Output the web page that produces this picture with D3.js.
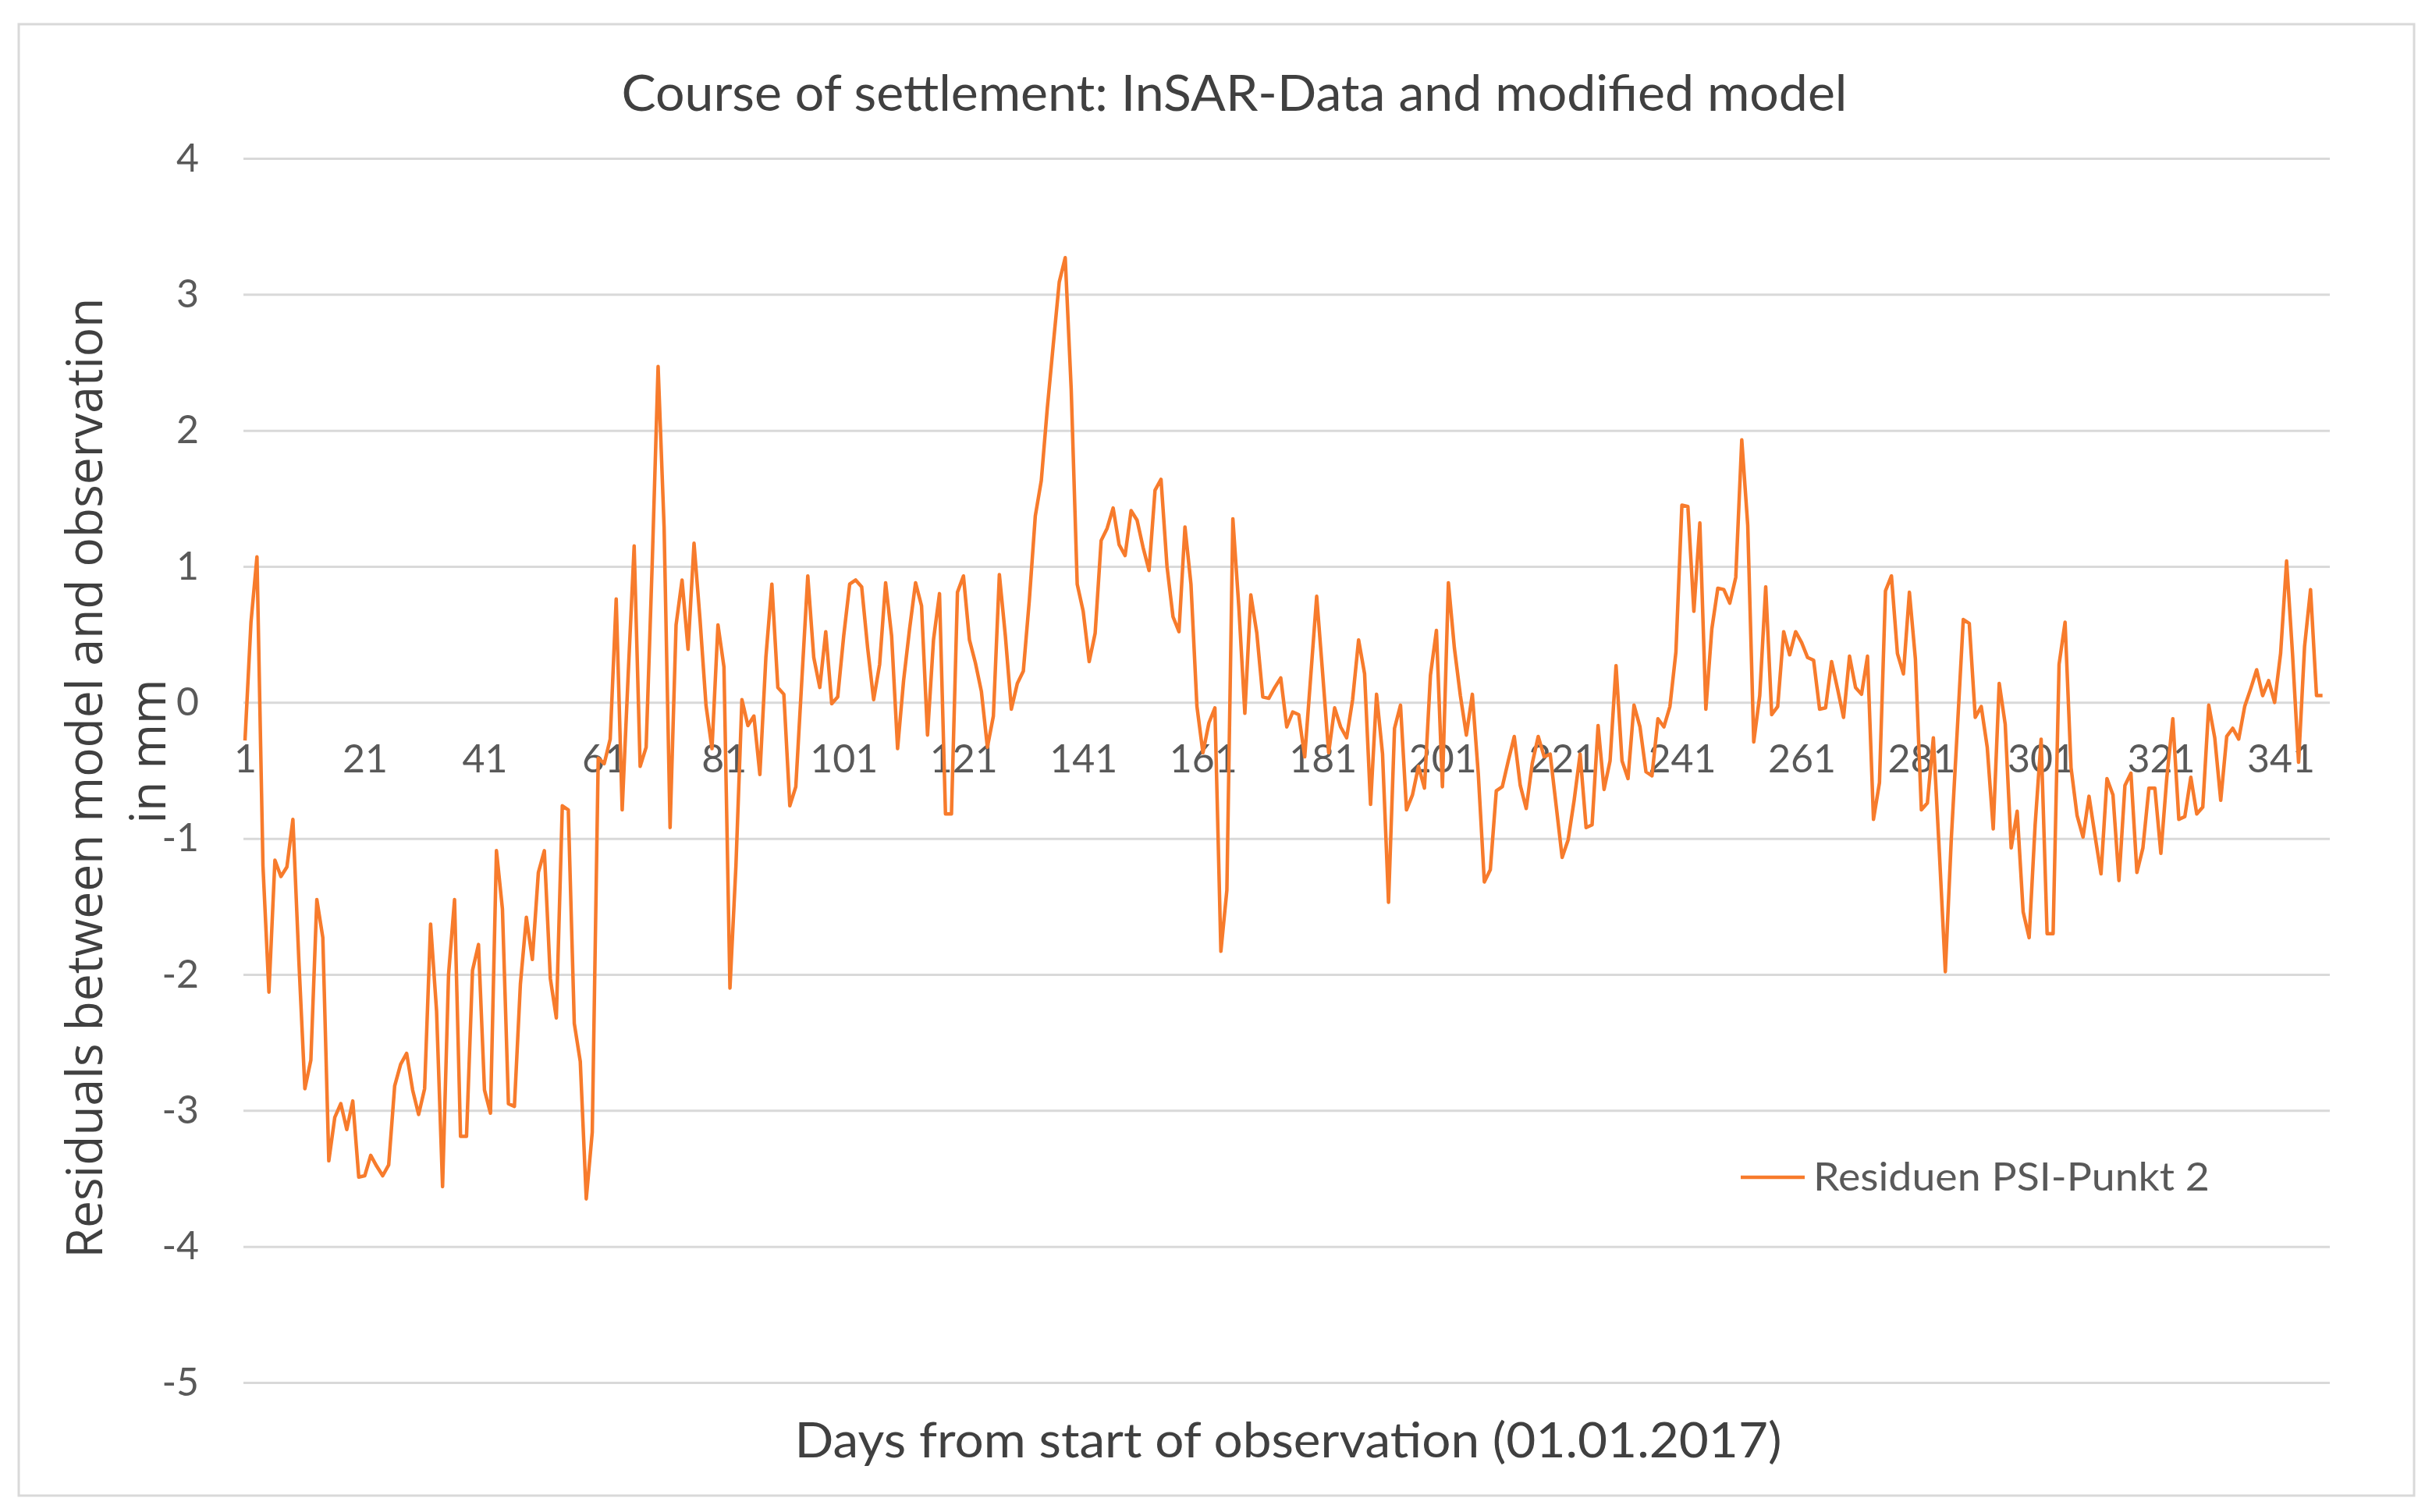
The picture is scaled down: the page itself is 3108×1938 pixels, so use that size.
<!DOCTYPE html>
<html>
<head>
<meta charset="utf-8">
<script src="https://cdn.jsdelivr.net/npm/d3@7"></script>
<style>
  html, body { margin: 0; padding: 0; background: #ffffff; }
  svg { display: block; }
</style>
</head>
<body>
<svg id="chart" width="3108" height="1938"></svg>
<script>
// ---------------- data ----------------
const chartTitle = "Course of settlement: InSAR-Data and modified model";
const xAxisTitle = "Days from start of observation (01.01.2017)";
const yAxisTitleLine1 = "Residuals between model and observation";
const yAxisTitleLine2 = "in mm";
const seriesName = "Residuen PSI-Punkt 2";

const yTickValues = [4, 3, 2, 1, 0, -1, -2, -3, -4, -5];
const xTickLabels = [1, 21, 41, 61, 81, 101, 121, 141, 161, 181, 201, 221, 241, 261, 281, 301, 321, 341];
const categoryExtent = [1, 350];

const residuals = [
  -0.28, 0.59, 1.07, -1.2, -2.13, -1.16, -1.28, -1.21, -0.86, -1.9,
  -2.84, -2.63, -1.45, -1.73, -3.37, -3.05, -2.95, -3.14, -2.93, -3.49,
  -3.48, -3.33, -3.41, -3.48, -3.40, -2.82, -2.66, -2.58, -2.85, -3.03,
  -2.84, -1.63, -2.27, -3.56, -2.0, -1.45, -3.19, -3.19, -1.97, -1.78,
  -2.85, -3.02, -1.09, -1.52, -2.95, -2.97, -2.07, -1.58, -1.89, -1.25,
  -1.09, -2.03, -2.32, -0.76, -0.79, -2.36, -2.64, -3.65, -3.16, -0.41,
  -0.45, -0.27, 0.76, -0.79, 0.2, 1.15, -0.47, -0.33, 1.0, 2.47,
  1.29, -0.92, 0.57, 0.90, 0.39, 1.17, 0.61, -0.02, -0.34, 0.57,
  0.26, -2.10, -1.2, 0.02, -0.17, -0.10, -0.53, 0.33, 0.87, 0.11,
  0.06, -0.76, -0.62, 0.16, 0.93, 0.33, 0.11, 0.52, -0.01, 0.04,
  0.49, 0.87, 0.90, 0.85, 0.40, 0.02, 0.28, 0.88, 0.49, -0.34,
  0.16, 0.54, 0.88, 0.71, -0.24, 0.46, 0.80, -0.82, -0.82, 0.81,
  0.93, 0.46, 0.29, 0.08, -0.33, -0.1, 0.94, 0.49, -0.05, 0.14,
  0.23, 0.75, 1.37, 1.63, 2.16, 2.63, 3.09, 3.27, 2.3, 0.87,
  0.67, 0.30, 0.51, 1.19, 1.28, 1.43, 1.16, 1.08, 1.41, 1.34,
  1.14, 0.97, 1.56, 1.64, 1.0, 0.63, 0.52, 1.29, 0.87, -0.03,
  -0.37, -0.15, -0.04, -1.83, -1.38, 1.35, 0.70, -0.08, 0.79, 0.51,
  0.04, 0.03, 0.11, 0.18, -0.18, -0.07, -0.09, -0.40, 0.19, 0.78,
  0.21, -0.37, -0.04, -0.18, -0.26, 0.02, 0.46, 0.21, -0.75, 0.06,
  -0.38, -1.47, -0.19, -0.02, -0.79, -0.68, -0.47, -0.63, 0.2, 0.53,
  -0.62, 0.88, 0.4, 0.05, -0.24, 0.06, -0.53, -1.32, -1.23, -0.65,
  -0.62, -0.43, -0.25, -0.61, -0.78, -0.45, -0.25, -0.40, -0.38, -0.76,
  -1.14, -1.01, -0.72, -0.38, -0.92, -0.90, -0.17, -0.64, -0.43, 0.27,
  -0.43, -0.56, -0.02, -0.18, -0.51, -0.54, -0.12, -0.18, -0.03, 0.37,
  1.45, 1.44, 0.67, 1.32, -0.05, 0.54, 0.84, 0.83, 0.73, 0.92,
  1.93, 1.3, -0.29, 0.05, 0.85, -0.09, -0.03, 0.52, 0.35, 0.52,
  0.44, 0.33, 0.31, -0.05, -0.04, 0.30, 0.1, -0.11, 0.34, 0.11,
  0.06, 0.34, -0.86, -0.59, 0.82, 0.93, 0.36, 0.21, 0.81, 0.32,
  -0.79, -0.74, -0.26, -1.1, -1.98, -1.0, -0.2, 0.61, 0.58, -0.11,
  -0.03, -0.33, -0.93, 0.14, -0.16, -1.07, -0.80, -1.54, -1.73, -0.9,
  -0.27, -1.70, -1.70, 0.28, 0.59, -0.48, -0.83, -0.99, -0.69, -0.98,
  -1.26, -0.56, -0.68, -1.31, -0.61, -0.52, -1.25, -1.07, -0.63, -0.63,
  -1.11, -0.55, -0.12, -0.86, -0.84, -0.55, -0.82, -0.77, -0.02, -0.26,
  -0.72, -0.25, -0.19, -0.27, -0.03, 0.10, 0.24, 0.05, 0.16, 0.00,
  0.36, 1.04, 0.35, -0.44, 0.41, 0.83, 0.05, 0.05
];
const days = residuals.map((_, i) => i + 1);

// ---------------- drawing ----------------
const svg = d3.select("#chart");
const W = 3108, H = 1938;
const plotLeft = 312, plotRight = 2986;
const lineColor = "#f77b2c";
const labelFont = "Lato, 'Open Sans', 'DejaVu Sans', sans-serif";

svg.append("rect").attr("x", 0).attr("y", 0).attr("width", W).attr("height", H).attr("fill", "#ffffff");
svg.append("rect")
  .attr("x", 24).attr("y", 31).attr("width", 3070).attr("height", 1886)
  .attr("fill", "#ffffff").attr("stroke", "#d9d9d9").attr("stroke-width", 3);

const x = d3.scaleLinear().domain(categoryExtent).range([314, 2992]);
const y = d3.scaleLinear().domain([-5, 4]).range([1772, 203]);

// y gridlines + labels
const yAxis = d3.axisLeft(y)
  .tickValues(yTickValues)
  .tickSize(-(plotRight - plotLeft))
  .tickPadding(57)
  .tickFormat(d3.format("d"));
const gy = svg.append("g").attr("transform", `translate(${plotLeft},0)`).call(yAxis);
gy.select(".domain").remove();
gy.selectAll(".tick line").attr("stroke", "#d9d9d9").attr("stroke-width", 3);
gy.selectAll(".tick text")
  .attr("fill", "#595959")
  .style("font-family", labelFont)
  .style("font-size", "50px")
  .text(d => d < 0 ? "-" + Math.abs(d) : String(d));

// x tick labels at the zero line
const xAxis = d3.axisBottom(x)
  .tickValues(xTickLabels)
  .tickSize(0)
  .tickPadding(54)
  .tickFormat(d3.format("d"));
const gx = svg.append("g").attr("transform", `translate(0,${y(0)})`).call(xAxis);
gx.select(".domain").remove();
gx.selectAll(".tick text")
  .attr("fill", "#595959")
  .style("font-family", labelFont)
  .style("font-size", "50px");

// series line
const line = d3.line()
  .x((d, i) => x(days[i]))
  .y(d => y(d));
svg.append("path")
  .datum(residuals)
  .attr("d", line)
  .attr("fill", "none")
  .attr("stroke", lineColor)
  .attr("stroke-width", 4.5)
  .attr("stroke-linejoin", "round");

// legend
svg.append("line")
  .attr("x1", 2231).attr("x2", 2313).attr("y1", 1509).attr("y2", 1509)
  .attr("stroke", lineColor).attr("stroke-width", 4.5);
svg.append("text")
  .attr("x", 2324).attr("y", 1526)
  .attr("fill", "#595959")
  .style("font-family", labelFont)
  .style("font-size", "50px")
  .attr("textLength", 508).attr("lengthAdjust", "spacingAndGlyphs")
  .text(seriesName);

// chart title
svg.append("text")
  .attr("x", 1582).attr("y", 142)
  .attr("text-anchor", "middle")
  .attr("fill", "#404040")
  .style("font-family", labelFont)
  .style("font-size", "63px")
  .attr("textLength", 1571).attr("lengthAdjust", "spacingAndGlyphs")
  .text(chartTitle);

// x axis title
svg.append("text")
  .attr("x", 1651).attr("y", 1868)
  .attr("text-anchor", "middle")
  .attr("fill", "#404040")
  .style("font-family", labelFont)
  .style("font-size", "61px")
  .attr("textLength", 1265).attr("lengthAdjust", "spacingAndGlyphs")
  .text(xAxisTitle);

// y axis title (two lines)
svg.append("text")
  .attr("transform", "translate(131,997) rotate(-90)")
  .attr("text-anchor", "middle")
  .attr("fill", "#404040")
  .style("font-family", "'Open Sans', 'DejaVu Sans', sans-serif")
  .style("font-size", "64px")
  .attr("textLength", 1231).attr("lengthAdjust", "spacingAndGlyphs")
  .text(yAxisTitleLine1);
svg.append("text")
  .attr("transform", "translate(212,963) rotate(-90)")
  .attr("text-anchor", "middle")
  .attr("fill", "#404040")
  .style("font-family", "'Open Sans', 'DejaVu Sans', sans-serif")
  .style("font-size", "64px")
  .attr("textLength", 185).attr("lengthAdjust", "spacingAndGlyphs")
  .text(yAxisTitleLine2);
</script>
</body>
</html>
